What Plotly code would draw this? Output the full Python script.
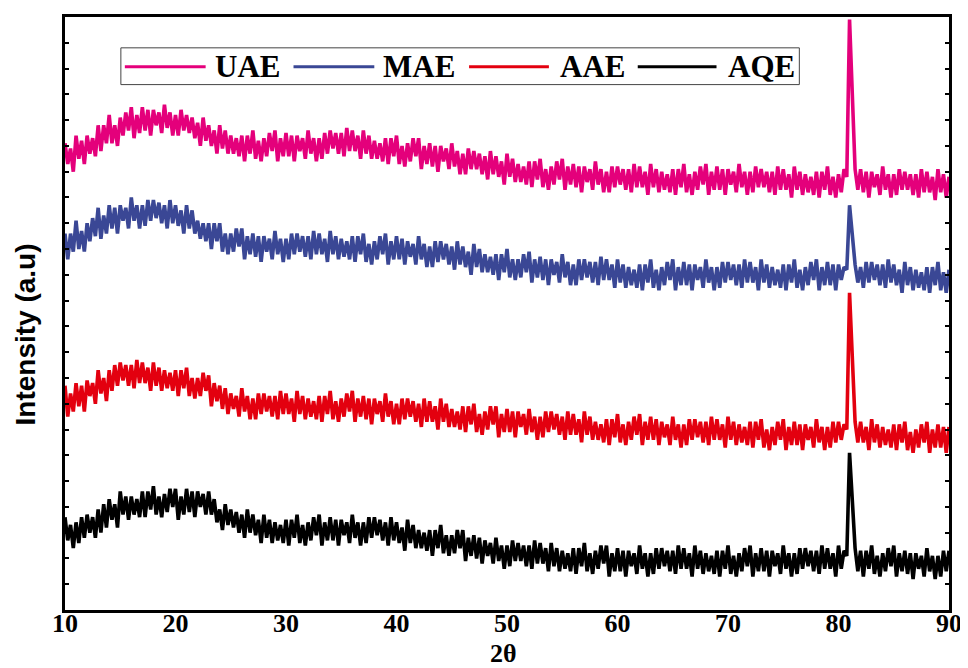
import numpy as np
import plotly.graph_objects as go

# 2-theta sampling grid (degrees), 0.25 deg steps from 10 to 90
two_theta = np.round(np.arange(10, 90.001, 0.25), 2)

# Intensity values (arbitrary units), one per grid point
uae = [
181,173,179,170, 184,175,182,173, 184,177,183,176, 188,178,188,181, 192,181,188,180,
191,184,193,186, 195,183,192,185, 195,186,194,184, 194,188,193,185, 196,187,193,184,
192,184,194,186, 192,185,191,183, 189,180,191,182, 188,180,186,177, 188,179,186,177,
184,177,183,176, 184,174,184,177, 186,175,182,174, 183,176,185,178, 186,174,183,176,
185,176,184,174, 184,178,183,175, 186,177,183,174, 183,175,185,177, 186,179,185,177,
185,176,187,178, 186,178,184,175, 186,177,184,175, 182,175,181,174, 183,173,183,176,
184,173,180,172, 181,174,183,176, 183,171,180,173, 181,172,180,170, 180,174,179,171,
181,172,178,169, 177,169,179,171, 178,171,177,169, 176,167,178,169, 176,168,174,165,
177,168,175,166, 173,166,172,165, 174,164,174,167, 175,164,171,163, 172,165,174,167,
175,163,172,165, 173,164,172,162, 172,166,171,163, 174,165,171,162, 170,162,172,164,
172,165,171,163, 171,162,173,164, 172,164,170,161, 173,164,171,162, 170,163,169,162,
171,161,171,164, 173,162,169,161, 170,163,172,165, 173,161,170,163, 172,163,171,161,
171,165,170,162, 173,164,170,161, 170,162,172,164, 171,164,170,162, 170,161,172,163,
171,163,169,160, 172,163,170,161, 169,162,168,161, 170,160,170,163, 172,161,168,160,
169,162,171,168, 229,201,171,163, 171,162,170,160, 170,164,169,161, 172,163,169,160,
169,161,171,163, 170,163,169,161, 169,160,171,162, 170,162,168,159, 171,162,169,160,
168]

mae = [
146,136,146,139, 151,140,147,139, 150,143,152,145, 156,144,153,146, 157,148,156,146,
157,151,156,148, 160,151,157,148, 157,149,159,151, 159,152,158,150, 157,148,159,150,
157,149,155,146, 157,148,155,146, 151,144,150,143, 150,140,150,143, 150,139,146,138,
146,139,148,141, 148,136,145,138, 146,137,145,135, 145,139,144,136, 147,138,144,135,
144,136,146,138, 146,139,145,137, 145,136,147,138, 146,138,144,135, 147,138,145,136,
144,137,143,136, 145,135,145,138, 146,135,142,134, 143,136,145,138, 146,134,143,136,
145,136,144,134, 143,137,142,134, 145,136,142,133, 141,133,143,135, 143,136,142,134,
141,132,143,134, 141,133,139,130, 142,133,140,131, 138,131,137,130, 138,128,138,131,
140,129,136,128, 136,129,138,131, 139,127,136,129, 137,128,136,126, 136,130,135,127,
138,129,135,126, 134,126,136,128, 136,129,135,127, 135,126,137,128, 136,128,134,125,
136,127,134,125, 133,126,132,125, 134,124,134,127, 136,125,132,124, 133,126,135,128,
136,124,133,126, 135,126,134,124, 134,128,133,125, 136,127,133,124, 133,125,135,127,
135,128,134,126, 134,125,136,127, 135,127,133,124, 136,127,134,125, 133,126,132,125,
134,124,134,127, 136,125,132,124, 133,126,135,128, 136,124,133,126, 135,126,134,124,
134,128,133,132, 157,145,134,127, 133,125,135,127, 135,128,134,126, 134,125,136,127,
134,126,132,123, 135,126,133,124, 132,125,131,124, 133,123,133,126, 135,124,131,123,
132]

aae = [
87,75,84,77, 88,79,87,77, 89,83,88,80, 93,84,90,81, 93,85,95,87,
96,89,95,87, 95,86,97,88, 96,88,94,85, 96,87,94,85, 93,86,92,85,
93,83,93,86, 94,83,90,82, 90,83,92,85, 91,79,88,81, 87,78,86,76,
84,78,83,75, 86,77,83,74, 82,74,84,76, 84,77,83,75, 83,74,85,76,
84,76,82,73, 85,76,83,74, 82,75,81,74, 83,73,83,76, 85,74,81,73,
82,75,84,77, 85,73,82,75, 83,74,82,72, 82,76,81,73, 84,75,81,72,
80,72,82,74, 82,75,81,73, 80,71,82,73, 81,73,79,70, 82,73,80,71,
78,71,77,70, 79,69,79,72, 80,69,76,68, 77,70,79,72, 79,67,76,69,
78,69,77,67, 77,71,76,68, 78,69,75,66, 75,67,77,69, 77,70,76,68,
75,66,77,68, 76,68,74,65, 77,68,75,66, 73,66,72,65, 74,64,74,67,
76,65,72,64, 73,66,75,68, 76,64,73,66, 75,66,74,64, 73,67,72,64,
75,66,72,63, 72,64,74,66, 74,67,73,65, 73,64,75,66, 74,66,72,63,
75,66,73,64, 72,65,71,64, 73,63,73,66, 74,63,70,62, 71,64,73,66,
74,62,71,64, 73,64,72,62, 72,66,71,63, 74,65,71,62, 71,63,73,65,
73,66,72,70, 123,97,73,65, 73,65,71,62, 74,65,72,63, 71,64,70,63,
72,62,72,65, 73,62,69,61, 70,63,72,65, 73,61,70,63, 72,63,71,61,
71]

aqe = [
36,27,33,24, 34,26,36,28, 37,30,36,28, 39,30,41,32, 43,35,41,32,
46,37,44,35, 44,37,43,36, 46,36,46,39, 48,37,44,36, 45,38,47,40,
47,35,44,37, 47,38,46,36, 46,40,45,37, 46,37,43,34, 39,31,41,33,
39,32,38,30, 37,28,39,30, 37,29,35,26, 37,28,35,26, 34,27,33,26,
35,25,35,28, 37,26,33,25, 34,27,36,29, 37,25,34,27, 36,27,35,25,
35,29,34,26, 37,28,34,25, 34,26,36,28, 36,29,35,27, 34,25,36,27,
34,26,32,23, 35,26,33,24, 31,24,30,23, 31,21,31,24, 33,22,29,21,
29,22,31,24, 31,19,28,21, 29,20,28,18, 27,21,26,18, 28,19,25,16,
25,17,27,19, 26,19,25,17, 25,16,27,18, 26,18,24,15, 26,17,24,15,
23,16,22,15, 24,14,24,17, 26,15,22,14, 23,16,25,18, 25,13,22,15,
24,15,23,13, 23,17,22,14, 25,16,22,13, 22,14,24,16, 24,17,23,15,
23,14,25,16, 24,16,22,13, 25,16,23,14, 22,15,21,14, 23,13,23,16,
25,14,21,13, 22,15,24,17, 25,13,22,15, 24,15,23,13, 23,17,22,14,
25,16,22,13, 22,14,24,16, 24,17,23,15, 23,14,25,16, 24,16,22,13,
25,16,23,21, 61,41,24,15, 23,13,23,16, 25,14,21,13, 22,15,24,17,
25,13,22,15, 23,14,22,12, 22,16,21,13, 24,15,21,12, 21,13,23,15,
23]

series_names = ["UAE", "MAE", "AAE", "AQE"]
series_values = [uae, mae, aae, aqe]
series_colors = ["#E4007B", "#3A4795", "#E3000F", "#000000"]

x_ticks = [10, 20, 30, 40, 50, 60, 70, 80, 90]

fig = go.Figure()
for name, vals, col in zip(series_names, series_values, series_colors):
    fig.add_trace(go.Scatter(x=two_theta, y=vals, mode="lines", name=name,
                             line=dict(color=col, width=3.6), showlegend=False))

# Custom legend box (paper coordinates)
fig.add_shape(type="rect", xref="paper", yref="paper", x0=0.0632, x1=0.8307,
              y0=0.886, y1=0.948, line=dict(color="#444", width=1), fillcolor="white")
leg_line_x = [(0.0677, 0.1591), (0.2585, 0.3499), (0.4571, 0.5474), (0.6479, 0.7370)]
leg_text_x = [0.1670, 0.3578, 0.5576, 0.7483]
for (a, b), tx, name, col in zip(leg_line_x, leg_text_x, series_names, series_colors):
    fig.add_shape(type="line", xref="paper", yref="paper", x0=a, x1=b, y0=0.916, y1=0.916,
                  line=dict(color=col, width=3))
    fig.add_annotation(xref="paper", yref="paper", x=tx, y=0.916, xanchor="left", yanchor="middle",
                       text=name, showarrow=False,
                       font=dict(family="Liberation Serif", size=31, color="black", weight="bold"))

fig.add_annotation(xref="paper", yref="paper", x=-0.045, y=0.465, text="Intensity (a.u)",
                   textangle=-90, showarrow=False, xanchor="center", yanchor="middle",
                   font=dict(family="Liberation Sans", size=28, color="black", weight="bold"))
fig.add_annotation(xref="paper", yref="paper", x=0.4966, y=-0.0735, text="2θ",
                   showarrow=False, xanchor="center", yanchor="middle",
                   font=dict(family="Liberation Serif", size=26, color="black", weight="bold"))

fig.update_xaxes(range=[10, 90], tickvals=x_ticks, ticktext=[str(v) for v in x_ticks],
                 showline=True, linecolor="black", linewidth=3, mirror=True,
                 ticks="", showgrid=False, zeroline=False, ticklabelstandoff=-12,
                 tickfont=dict(family="Liberation Serif", size=26, color="black", weight="bold"))
fig.update_yaxes(range=[0, 230], dtick=10, showticklabels=False,
                 showline=True, linecolor="black", linewidth=3, mirror="ticks",
                 ticks="inside", ticklen=4, tickwidth=2, tickcolor="black",
                 showgrid=False, zeroline=False)

fig.update_layout(width=960, height=660, margin=dict(l=57, r=17, t=6, b=58),
                  plot_bgcolor="white", paper_bgcolor="white")

fig.write_html("out.html")
